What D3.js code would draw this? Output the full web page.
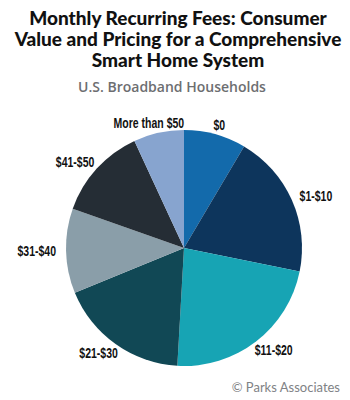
<!DOCTYPE html>
<html>
<head>
  <script src="https://d3js.org/d3.v7.min.js"></script>
  <style>
    body { margin: 0; background: #fff; }
  </style>
</head>
<body>
  <div id="chart"></div>
  <script>
    var categories = ["$0", "$1-$10", "$11-$20", "$21-$30", "$31-$40", "$41-$50", "More than $50"];
    var shares = [8.5, 19.7, 22.7, 17.9, 11.6, 12.7, 6.9];
    var colors = ["#136aab", "#0d355c", "#17a4b4", "#114855", "#8a9ea9", "#252d35", "#87a4cf"];

    var titleLines = ["Monthly Recurring Fees: Consumer", "Value and Pricing for a Comprehensive", "Smart Home System"];
    var subtitle = "U.S. Broadband Households";
    var source = "\u00a9 Parks Associates";

    var width = 350, height = 400,
        cx = 184, cy = 248, radius = 118;

    var svg = d3.select("#chart").append("svg")
      .attr("width", width)
      .attr("height", height);

    svg.selectAll(".title")
      .data(titleLines)
      .enter()
      .append("text")
      .attr("class", "title")
      .attr("x", 178)
      .attr("y", function(d, i) { return 25 + i * 21; })
      .attr("text-anchor", "middle")
      .style("font-family", "Lato, 'Open Sans', sans-serif")
      .style("font-weight", "900")
      .style("font-size", "19px")
      .style("fill", "#111")
      .text(function(d) { return d; });

    svg.append("text")
      .attr("x", 172)
      .attr("y", 92)
      .attr("text-anchor", "middle")
      .style("font-family", "'Open Sans', Lato, sans-serif")
      .style("font-weight", "600")
      .style("font-size", "14px")
      .style("fill", "#6d6e71")
      .text(subtitle);

    var pie = d3.pie().sort(null).value(function(d) { return d; });
    var arcs = pie(shares);

    var arc = d3.arc().innerRadius(0).outerRadius(radius);

    var g = svg.append("g")
      .attr("transform", "translate(" + cx + "," + cy + ")");

    g.selectAll("path")
      .data(arcs)
      .enter()
      .append("path")
      .attr("d", arc)
      .attr("fill", function(d, i) { return colors[i]; });

    // no condensed font installed, so squeeze the labels horizontally
    var squeeze = 0.7;

    var labels = g.selectAll(".label")
      .data(arcs)
      .enter()
      .append("text")
      .attr("class", "label")
      .attr("text-anchor", "middle")
      .attr("dy", "0.35em")
      .style("font-family", "'Liberation Sans', Arial, sans-serif")
      .style("font-weight", "bold")
      .style("font-size", "15px")
      .style("fill", "#111")
      .text(function(d, i) { return categories[i]; });

    // labels sit just outside the rim, pushed out by half their width
    labels.each(function(d) {
      var a = (d.startAngle + d.endAngle) / 2;
      var w = this.getComputedTextLength() * squeeze;
      var r = radius + 10;
      var x = Math.sin(a) * r + Math.sin(a) * w / 2;
      var y = -Math.cos(a) * r;
      d3.select(this).attr("transform", "translate(" + x + "," + y + ") scale(" + squeeze + ",1)");
    });

    svg.append("text")
      .attr("x", 340)
      .attr("y", 392)
      .attr("text-anchor", "end")
      .style("font-family", "Lato, 'Open Sans', sans-serif")
      .style("font-size", "13px")
      .style("fill", "#808285")
      .text(source);
  </script>
</body>
</html>
